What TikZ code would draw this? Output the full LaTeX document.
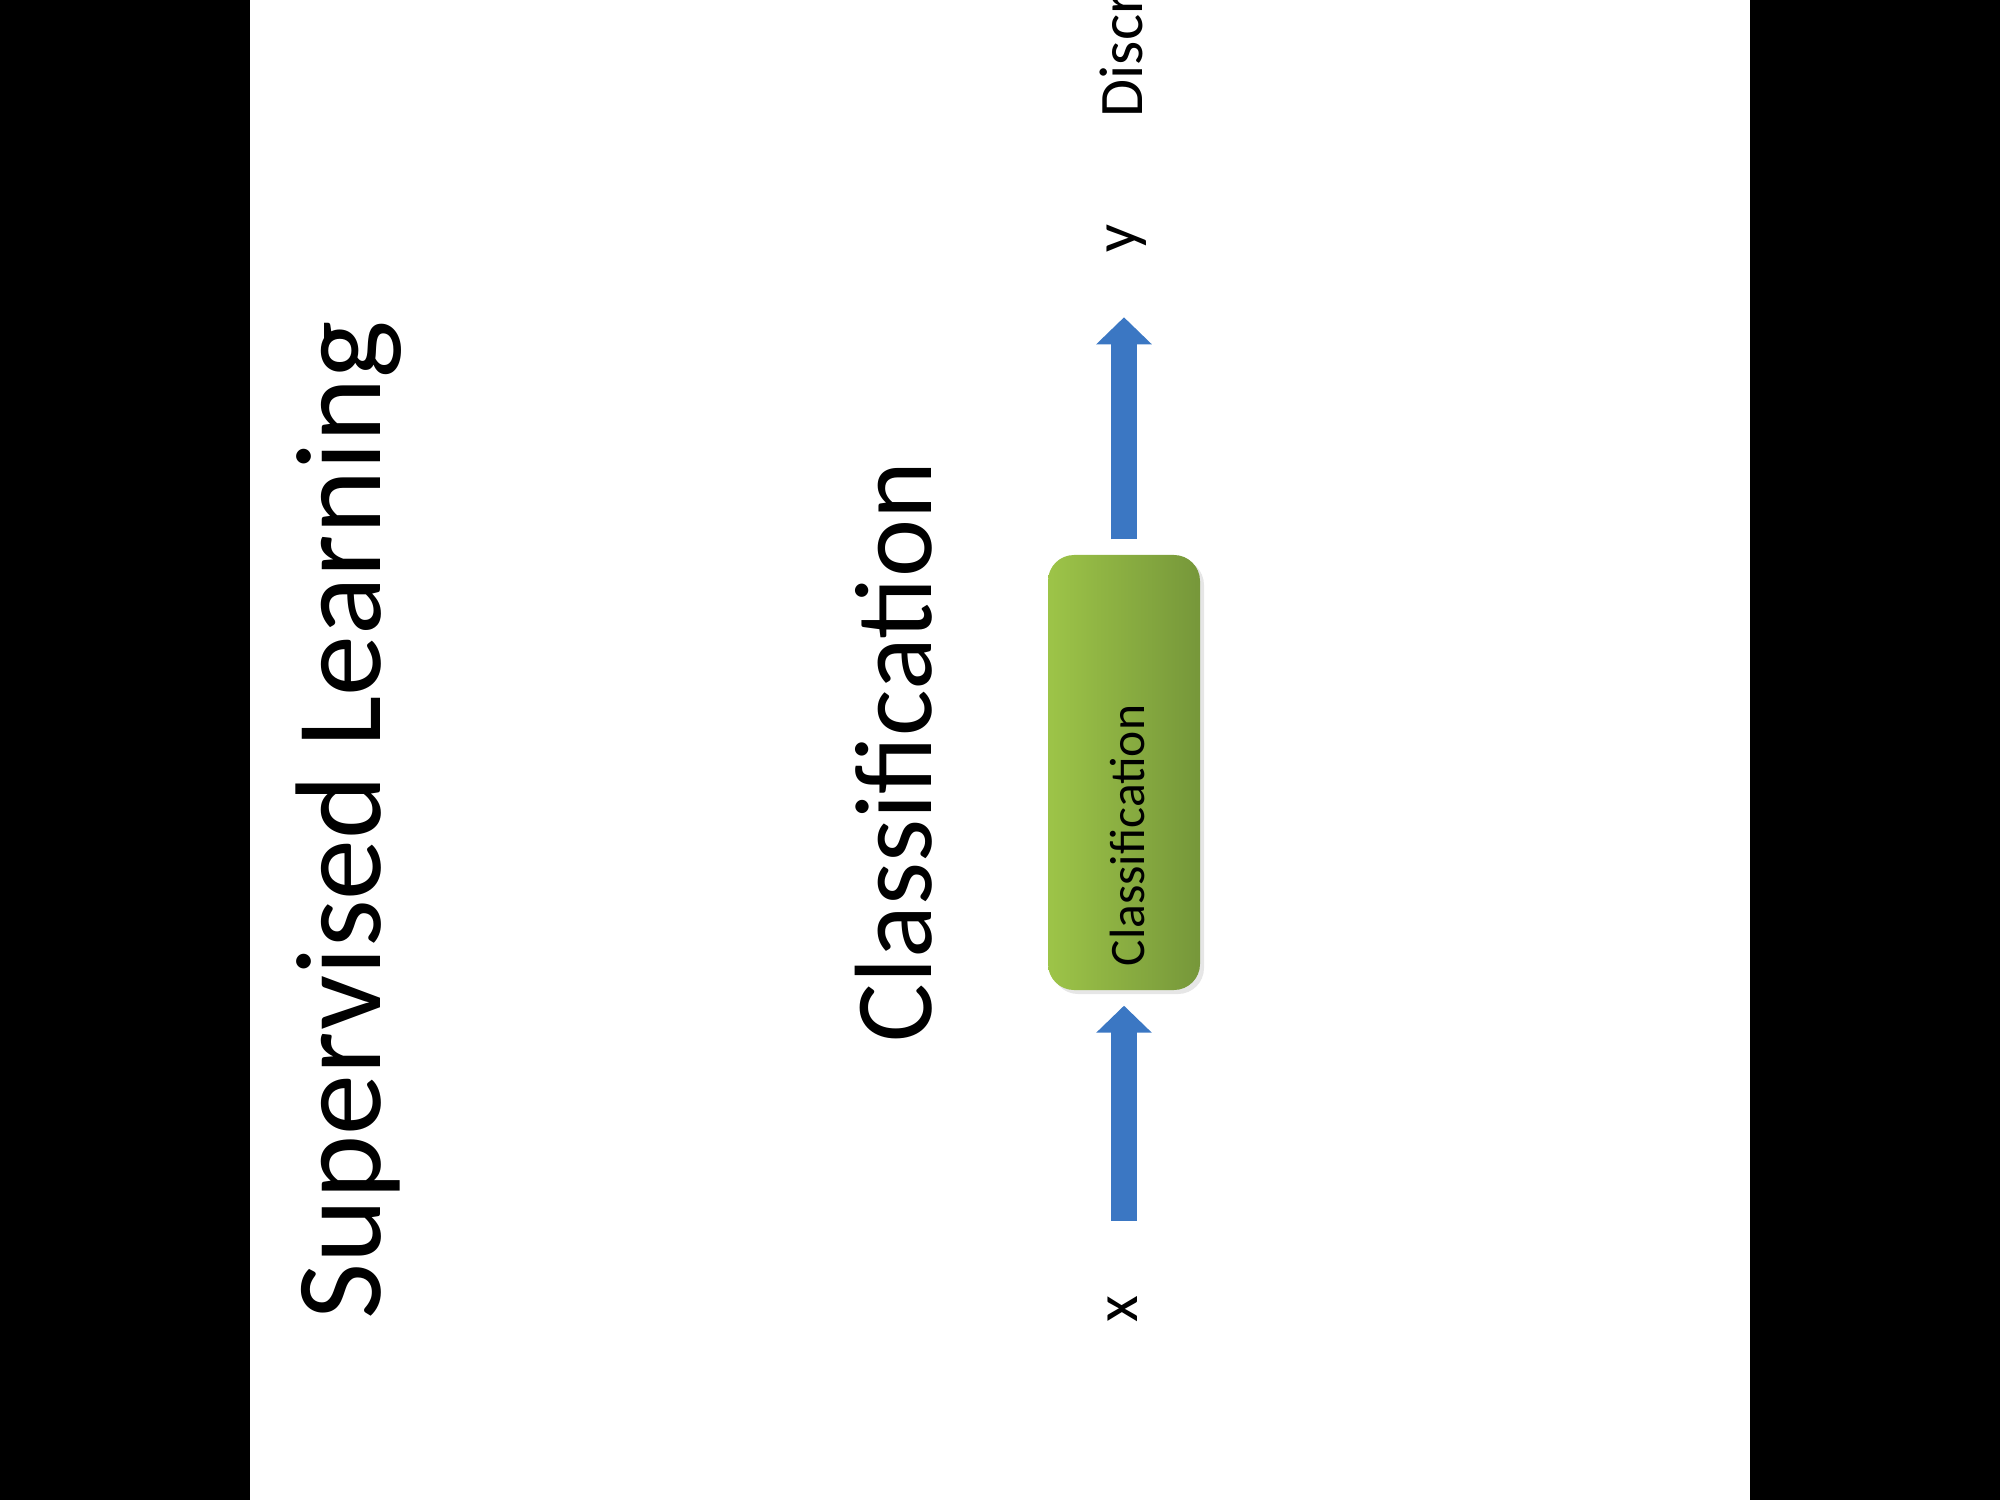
\documentclass[tikz,border=0pt]{standalone}
\usepackage{fontspec}
\setmainfont{Carlito}
\usetikzlibrary{positioning}
\usetikzlibrary{arrows.meta}
\usetikzlibrary{shadows}
\definecolor{boxlight}{HTML}{9DC448}
\definecolor{boxdark}{HTML}{76973A}
\definecolor{arrowblue}{HTML}{3B77C3}

\begin{document}
\begin{tikzpicture}[vtext/.style={inner sep=0pt, rotate=90, anchor=base west},
  bigarrow/.style={-{Triangle[width=0.54cm,length=0.27cm]}, line width=0.26cm, draw=arrowblue}]
              % Fondo
              \useasboundingbox (0,0) rectangle (20,15);
              \fill[black] (0,0) rectangle (2.5,15);
              \fill[black] (17.5,0) rectangle (20,15);

              % Textos
              \node[vtext] (title) at (3.80,1.80) {\fontsize{34.7}{40}\selectfont Supervised Learning};
              \node[vtext] (subtitle) at (9.31,4.57) {\fontsize{31.3}{36}\selectfont Classification};

              % Nodos
              \node[inner sep=0pt, minimum width=1.52cm, minimum height=4.35cm,
                    rounded corners=0.26cm, left color=boxlight, right color=boxdark,
                    drop shadow={opacity=0.2, shadow xshift=0.04cm, shadow yshift=-0.04cm}]
                    (clsbox) at (11.24,7.275) {};
              \node[vtext] (clslabel) at (11.44,5.33) {\fontsize{14.1}{17}\selectfont Classification};
              \node[vtext] (lblx) at (11.37,1.77) {\fontsize{17.6}{21}\selectfont x};
              \node[vtext] (lbly) at (11.36,12.47) {\fontsize{17.6}{21}\selectfont y};
              \node[vtext] (lbld) at (11.42,13.82) {\fontsize{17.6}{21}\selectfont Discr};

              % Flechas
              \draw[bigarrow, shorten <=0.88cm, shorten >=0.15cm] (clsbox.south |- lblx.center) -- (clsbox.south);
              \draw[bigarrow, shorten <=0.15cm, shorten >=0.79cm] (clsbox.north) -- (clsbox.north |- lbly.center);
            \end{tikzpicture}
\end{document}
